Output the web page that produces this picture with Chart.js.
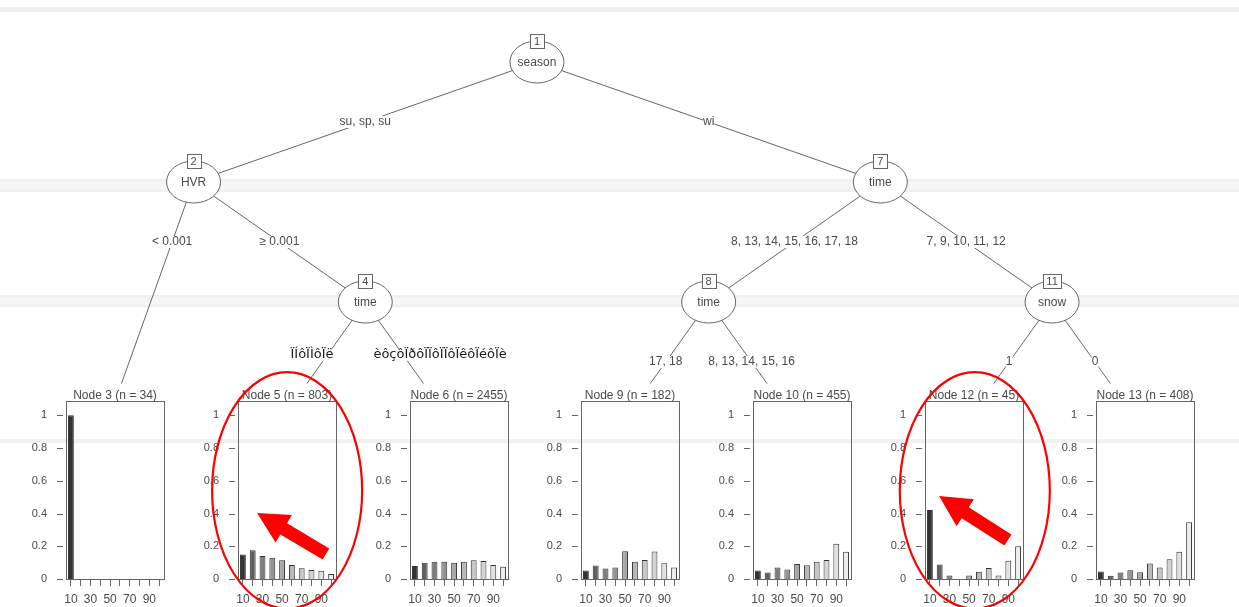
<!DOCTYPE html>
<html>
<head>
<meta charset="utf-8">
<script src="https://cdn.jsdelivr.net/npm/chart.js@4.4.1/dist/chart.umd.min.js"></script>
<style>
html, body { margin: 0; padding: 0; background: #fff; }
#wrap { position: relative; width: 1239px; height: 607px; overflow: hidden; background: #fff; }
.band { position: absolute; left: 0; width: 1239px; }
.leaf { position: absolute; z-index: 2; }
#tree { position: absolute; left: 0; top: 0; z-index: 3; pointer-events: none; }
</style>
</head>
<body>
<div id="wrap">
  <div class="band" style="top:7px;height:5px;background:#f0f0f0"></div>
  <div class="band" style="top:179px;height:13px;background:linear-gradient(#ededed,#f6f6f6 30%,#f6f6f6 70%,#ededed)"></div>
  <div class="band" style="top:295px;height:12px;background:linear-gradient(#ededed,#f6f6f6 30%,#f6f6f6 70%,#ededed)"></div>
  <div class="band" style="top:439px;height:4px;background:#f1f1f1"></div>
  <canvas id="tree" width="1239" height="607"></canvas>
</div>
<script>
// categories of the response (x axis of every leaf)
var categories = ['10', '20', '30', '40', '50', '60', '70', '80', '90', '100'];
var tickLabels = ['10', '30', '50', '70', '90'];
var yTicks = [0, 0.2, 0.4, 0.6, 0.8, 1];

// terminal nodes
var leafIds = [3, 5, 6, 9, 10, 12, 13];
var leafN = [34, 803, 2455, 182, 455, 45, 408];
var node3 = [1, 0, 0, 0, 0, 0, 0, 0, 0, 0];
var node5 = [0.15, 0.175, 0.14, 0.13, 0.115, 0.085, 0.065, 0.055, 0.05, 0.03];
var node6 = [0.08, 0.10, 0.105, 0.105, 0.10, 0.105, 0.115, 0.11, 0.085, 0.075];
var node9 = [0.052, 0.082, 0.064, 0.07, 0.17, 0.106, 0.116, 0.168, 0.096, 0.07];
var node10 = [0.052, 0.04, 0.07, 0.058, 0.092, 0.084, 0.106, 0.116, 0.216, 0.166];
var node12 = [0.422, 0.089, 0.022, 0, 0.022, 0.044, 0.067, 0.022, 0.111, 0.2];
var node13 = [0.046, 0.02, 0.04, 0.054, 0.042, 0.094, 0.07, 0.12, 0.166, 0.346];
var leafValues = [node3, node5, node6, node9, node10, node12, node13];

// inner nodes (x in leaf units, level = depth)
var innerIds = [1, 2, 4, 7, 8, 11];
var innerVars = ['season', 'HVR', 'time', 'time', 'time', 'snow'];
var innerX = [3.5, 1.5, 2.5, 5.5, 4.5, 6.5];
var innerLevel = [0, 1, 2, 1, 2, 2];
var leafX = [1, 2, 3, 4, 5, 6, 7];
var leafLevel = 3;

// edges
var edgeParent = [1, 1, 2, 2, 4, 4, 7, 7, 8, 8, 11, 11];
var edgeChild = [2, 7, 3, 4, 5, 6, 8, 11, 9, 10, 12, 13];
var edgeLabels = ['su, sp, su', 'wi', '< 0.001', '\u2265 0.001',
    '\u00cf\u00cd\u00f4\u00cf\u00cc\u00f4\u00cf\u00eb',
    '\u00e8\u00f4\u00e7\u00f4\u00cf\u00f0\u00f4\u00cf\u00cf\u00f4\u00cf\u00cf\u00f4\u00cf\u00ea\u00f4\u00cf\u00e9\u00f4\u00cf\u00e8',
    '8, 13, 14, 15, 16, 17, 18', '7, 9, 10, 11, 12', '17, 18', '8, 13, 14, 15, 16', '1', '0'];

var FONT = '"Liberation Sans", Arial, sans-serif';
var INK = '#4a4a4a';
var LINE = '#666';

var nodePos = function(id) {
    var i = innerIds.indexOf(id);
    if (i >= 0) {
        return {x: innerX[i], y: innerLevel[i]};
    }
    return {x: leafX[leafIds.indexOf(id)], y: leafLevel};
};

// leaf edges are hidden under the panel, cut them at its top
var edgePoints = function(k) {
    var p = nodePos(edgeParent[k]);
    var c = nodePos(edgeChild[k]);
    if (innerIds.indexOf(edgeChild[k]) < 0) {
        var cut = 2.68;
        var t = (cut - p.y) / (c.y - p.y);
        return [p, {x: p.x + (c.x - p.x) * t, y: cut}];
    }
    return [p, c];
};

var grayColors = function(n, start, end) {
    var out = [];
    var a = Math.pow(start, 2.2), b = Math.pow(end, 2.2);
    for (var i = 0; i < n; i++) {
        var v = Math.pow(a + (b - a) * i / (n - 1), 1 / 2.2);
        var g = Math.round(v * 255);
        out.push('rgb(' + g + ',' + g + ',' + g + ')');
    }
    return out;
};

var drawArrow = function(ctx, x1, y1, x2, y2) {
    var dx = x2 - x1, dy = y2 - y1, L = Math.hypot(dx, dy);
    var ux = dx / L, uy = dy / L, nx = -uy, ny = ux;
    var hl = 31, hw = 16, sw = 6.5;
    var bx = x2 - ux * hl, by = y2 - uy * hl;
    ctx.beginPath();
    ctx.moveTo(x1 + nx * sw, y1 + ny * sw);
    ctx.lineTo(bx + nx * sw, by + ny * sw);
    ctx.lineTo(bx + nx * hw, by + ny * hw);
    ctx.lineTo(x2, y2);
    ctx.lineTo(bx - nx * hw, by - ny * hw);
    ctx.lineTo(bx - nx * sw, by - ny * sw);
    ctx.lineTo(x1 - nx * sw, y1 - ny * sw);
    ctx.closePath();
    ctx.fill();
};

// tree: nodes, edge labels, and the red callouts on top
var treeDeco = {
    id: 'treeDeco',
    afterDatasetsDraw: function(chart, args, opts) {
        var ctx = chart.ctx, sx = chart.scales.x, sy = chart.scales.y;
        ctx.save();
        ctx.textAlign = 'center';
        ctx.textBaseline = 'middle';

        // edge labels
        edgeLabels.forEach(function(lab, k) {
            var p = nodePos(edgeParent[k]), c = nodePos(edgeChild[k]);
            var t = 0.5 / (c.y - p.y);
            var nd = opts.labelNudge[k] || [0, 0];
            var px = sx.getPixelForValue(p.x + (c.x - p.x) * t + nd[0]);
            var py = sy.getPixelForValue(p.y + 0.5 + nd[1]);
            if (opts.labelNudge[k]) {
                ctx.font = '13px "DejaVu Sans", sans-serif';
                ctx.fillStyle = '#1a1a1a';
            } else {
                ctx.font = '12px ' + FONT;
                ctx.fillStyle = INK;
            }
            var w = ctx.measureText(lab).width;
            ctx.save();
            ctx.fillStyle = '#fff';
            ctx.fillRect(px - w / 2, py - 6, w, 12);
            ctx.restore();
            ctx.fillText(lab, px, py);
        });

        // inner nodes
        innerIds.forEach(function(id, i) {
            var px = sx.getPixelForValue(innerX[i]);
            var py = sy.getPixelForValue(innerLevel[i]);
            var rx = 27, ry = 21;
            ctx.beginPath();
            ctx.ellipse(px, py, rx, ry, 0, 0, Math.PI * 2);
            ctx.fillStyle = '#fff';
            ctx.fill();
            ctx.strokeStyle = LINE;
            ctx.lineWidth = 1;
            ctx.stroke();
            ctx.fillStyle = INK;
            ctx.font = '12px ' + FONT;
            ctx.fillText(innerVars[i], px, py + 1);
            // id box
            ctx.font = '11px ' + FONT;
            var s = String(id);
            var bw = Math.max(14, ctx.measureText(s).width + 7);
            var by = py - ry;
            ctx.fillStyle = '#fff';
            ctx.fillRect(Math.round(px - bw / 2) + 0.5, Math.round(by - 7) + 0.5, Math.round(bw), 14);
            ctx.strokeRect(Math.round(px - bw / 2) + 0.5, Math.round(by - 7) + 0.5, Math.round(bw), 14);
            ctx.fillStyle = INK;
            ctx.fillText(s, px, by + 0.5);
        });

        // red callouts
        ctx.strokeStyle = '#ff0000';
        ctx.fillStyle = '#ff0000';
        ctx.lineWidth = 2.2;
        opts.callouts.forEach(function(c) {
            var cx = sx.getPixelForValue(leafX[c.leaf] + c.dx);
            var cy = sy.getPixelForValue(c.cy);
            var rx = sx.getPixelForValue(leafX[c.leaf] + c.dx + c.rx) - cx;
            var ry = sy.getPixelForValue(c.cy + c.ry) - cy;
            ctx.beginPath();
            ctx.ellipse(cx, cy, rx, ry, 0, 0, Math.PI * 2);
            ctx.stroke();
            drawArrow(ctx,
                sx.getPixelForValue(c.tail[0]), sy.getPixelForValue(c.tail[1]),
                sx.getPixelForValue(c.tip[0]), sy.getPixelForValue(c.tip[1]));
        });
        ctx.restore();
    }
};

var edgeSets = edgeParent.map(function(p, k) {
    return {
        data: edgePoints(k),
        showLine: true,
        borderColor: LINE,
        borderWidth: 1,
        pointRadius: 0
    };
});

var tree = new Chart(document.getElementById('tree').getContext('2d'), {
    type: 'scatter',
    data: {datasets: edgeSets},
    options: {
        responsive: false,
        animation: false,
        events: [],
        layout: {padding: 0},
        plugins: {
            legend: {display: false},
            tooltip: {enabled: false},
            treeDeco: {
                labelNudge: {4: [-0.06, -0.06], 5: [0.186, -0.06]},
                callouts: [
                    {leaf: 1, dx: 0.045, cy: 3.57, rx: 0.437, ry: 0.985, tip: [1.870, 3.758], tail: [2.271, 4.10]},
                    {leaf: 5, dx: 0.050, cy: 3.57, rx: 0.437, ry: 0.985, tip: [5.842, 3.617], tail: [6.243, 3.983]}
                ]
            }
        },
        scales: {
            x: {type: 'linear', display: false, min: 0.3727, max: 7.5888},
            y: {type: 'linear', display: false, min: -0.5167, max: 4.5417, reverse: true}
        }
    },
    plugins: [treeDeco]
});

// leaf panels: title, box and the y tick marks
var leafDeco = {
    id: 'leafDeco',
    afterDraw: function(chart, args, opts) {
        var ctx = chart.ctx, a = chart.chartArea, sy = chart.scales.y;
        ctx.save();
        ctx.strokeStyle = LINE;
        ctx.lineWidth = 1;
        var l = Math.round(a.left) + 0.5, t = Math.round(a.top) + 0.5;
        ctx.strokeRect(l, t, Math.round(a.right - a.left), Math.round(a.bottom - a.top));
        ctx.beginPath();
        yTicks.forEach(function(v) {
            var y = Math.round(sy.getPixelForValue(v)) + 0.5;
            ctx.moveTo(a.left - 9, y);
            ctx.lineTo(a.left - 3, y);
        });
        ctx.stroke();
        ctx.fillStyle = INK;
        ctx.font = '12px ' + FONT;
        ctx.textAlign = 'center';
        ctx.textBaseline = 'alphabetic';
        ctx.fillText(opts.title, (a.left + a.right) / 2, a.top - 2);
        ctx.restore();
    }
};

var fills = grayColors(categories.length, 0.2, 0.93);
var wrap = document.getElementById('wrap');

leafIds.forEach(function(id, i) {
    var boxLeft = Math.round(tree.scales.x.getPixelForValue(leafX[i]) - 41.5);
    var cv = document.createElement('canvas');
    cv.className = 'leaf';
    cv.width = 149;
    cv.height = 224;
    cv.style.left = (boxLeft - 48) + 'px';
    cv.style.top = '383px';
    wrap.appendChild(cv);
    new Chart(cv.getContext('2d'), {
        type: 'bar',
        data: {
            labels: categories,
            datasets: [{
                data: leafValues[i],
                backgroundColor: fills,
                borderColor: '#333',
                borderWidth: 1,
                barPercentage: 0.6,
                categoryPercentage: 1
            }]
        },
        options: {
            responsive: false,
            animation: false,
            events: [],
            layout: {padding: {top: 16, right: 3, left: 0, bottom: 0}},
            plugins: {
                legend: {display: false},
                tooltip: {enabled: false},
                leafDeco: {title: 'Node ' + id + ' (n = ' + leafN[i] + ')'}
            },
            scales: {
                x: {
                    grid: {display: true, drawOnChartArea: false, offset: false, tickLength: 7, color: LINE},
                    border: {display: false},
                    ticks: {
                        autoSkip: false, maxRotation: 0, padding: 6, color: INK,
                        font: {family: FONT, size: 12},
                        callback: function(v, k) {
                            return tickLabels.indexOf(categories[k]) >= 0 ? categories[k] : '';
                        }
                    },
                    afterFit: function(s) { s.height = 28; }
                },
                y: {
                    min: 0, max: 1.09,
                    grid: {display: false},
                    border: {display: false},
                    ticks: {
                        padding: 11, color: INK, font: {family: FONT, size: 11},
                        callback: function(v) { return String(Math.round(v * 10) / 10); }
                    },
                    afterBuildTicks: function(s) {
                        s.ticks = yTicks.map(function(v) { return {value: v}; });
                    },
                    afterFit: function(s) { s.width = 48; }
                }
            }
        },
        plugins: [leafDeco]
    });
});
</script>
</body>
</html>
